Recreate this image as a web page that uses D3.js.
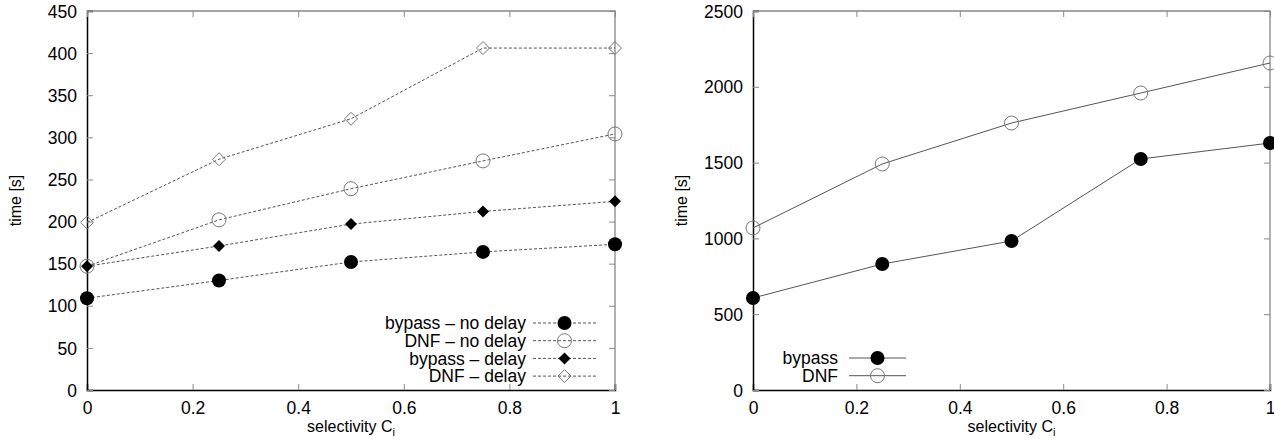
<!DOCTYPE html>
<html><head><meta charset="utf-8">
<script src="https://cdn.jsdelivr.net/npm/d3@7"></script>
<style>body{margin:0;background:#fff;} svg{display:block;font-family:"Liberation Sans",Arial,sans-serif;}</style>
</head><body>
<svg id="c" width="1274" height="439"></svg>
<script>
const xs = [0, 0.25, 0.5, 0.75, 1];
const xTicks = [0, 0.2, 0.4, 0.6, 0.8, 1];
const leftYTicks = [0, 50, 100, 150, 200, 250, 300, 350, 400, 450];
const rightYTicks = [0, 500, 1000, 1500, 2000, 2500];
const bypassNoDelay = [109, 130, 152, 164, 173];
const dnfNoDelay = [147, 202, 239, 272, 304];
const bypassDelay = [147, 171, 197, 212, 224];
const dnfDelay = [199, 274, 322, 406, 406];
const bypassR = [607, 831, 983, 1524, 1629];
const dnfR = [1069, 1491, 1761, 1959, 2157];
const leftLabels = ["bypass \u2013 no delay", "DNF \u2013 no delay", "bypass \u2013 delay", "DNF \u2013 delay"];
const rightLabels = ["bypass", "DNF"];

const svg = d3.select("#c");
const FS = 17.5;

function marker(g, type, x, y) {
  if (type === "fc") g.append("circle").attr("cx", x).attr("cy", y).attr("r", 7).attr("fill", "#000");
  else if (type === "oc") g.append("circle").attr("cx", x).attr("cy", y).attr("r", 7).attr("fill", "none").attr("stroke", "#777").attr("stroke-width", 1);
  else if (type === "fd") g.append("path").attr("d", `M${x},${y-6}L${x+6},${y}L${x},${y+6}L${x-6},${y}Z`).attr("fill", "#000");
  else if (type === "od") g.append("path").attr("d", `M${x},${y-6.5}L${x+6.5},${y}L${x},${y+6.5}L${x-6.5},${y}Z`).attr("fill", "none").attr("stroke", "#777").attr("stroke-width", 1);
}

function panel(opts) {
  const {x0, x1, y0, y1, ymax, yticks, series, legend} = opts;
  const g = svg.append("g");
  const x = d3.scaleLinear().domain([0, 1]).range([x0, x1]);
  const y = d3.scaleLinear().domain([0, ymax]).range([y1, y0]);
  g.append("path").attr("d", `M${x0},${y0}H${x1}V${y1}`).attr("fill", "none").attr("stroke", "#888").attr("stroke-width", 1.3);
  const tl = 6;
  const bAx = g.append("g").attr("transform", `translate(0,${y1})`).call(d3.axisBottom(x).tickValues(xTicks).tickSize(-tl).tickPadding(12).tickFormat(d3.format("")));
  const lAx = g.append("g").attr("transform", `translate(${x0},0)`).call(d3.axisLeft(y).tickValues(yticks).tickSize(-tl).tickPadding(10).tickFormat(d3.format("")));
  const tAx = g.append("g").attr("transform", `translate(0,${y0})`).call(d3.axisTop(x).tickValues(xTicks).tickSize(-tl).tickFormat(""));
  const rAx = g.append("g").attr("transform", `translate(${x1},0)`).call(d3.axisRight(y).tickValues(yticks).tickSize(-tl).tickFormat(""));
  [bAx, lAx, tAx, rAx].forEach(a => {
    a.selectAll(".tick line").attr("stroke", "#888");
    a.selectAll("text").attr("font-size", FS).attr("fill", "#000").attr("font-family", "Liberation Sans, Arial, sans-serif");
    a.attr("font-size", FS);
  });
  bAx.select(".domain").attr("stroke", "#000").attr("stroke-width", 1.5);
  lAx.select(".domain").attr("stroke", "#000").attr("stroke-width", 1.5);
  tAx.select(".domain").remove();
  rAx.select(".domain").remove();
  lAx.selectAll(".tick text").attr("dy", "0.35em");
  g.append("text").attr("transform", `translate(${x0 - 66},${(y0 + y1) / 2}) rotate(-90)`).attr("text-anchor", "middle").attr("font-size", 16).text("time [s]");
  const xl = g.append("text").attr("x", (x0 + x1) / 2).attr("y", y1 + 42).attr("text-anchor", "middle").attr("font-size", 16);
  xl.append("tspan").text("selectivity C");
  xl.append("tspan").attr("font-size", 11).attr("dy", 4).text("i");
  const line = d3.line().x((d, i) => x(xs[i])).y(d => y(d));
  series.forEach(s => {
    g.append("path").datum(s.values).attr("d", line).attr("fill", "none").attr("stroke", s.stroke).attr("stroke-width", 1).attr("stroke-dasharray", s.dash);
    s.values.forEach((v, i) => marker(g, s.type, x(xs[i]), y(v)));
  });
  series.forEach((s, i) => {
    const ly = legend.y + i * legend.dy;
    g.append("text").attr("x", legend.tx).attr("y", ly).attr("dy", "0.35em").attr("text-anchor", "end").attr("font-size", FS).text(s.label);
    g.append("line").attr("x1", legend.l0).attr("x2", legend.l1).attr("y1", ly).attr("y2", ly).attr("stroke", s.stroke).attr("stroke-width", 1).attr("stroke-dasharray", s.dash);
    marker(g, s.type, (legend.l0 + legend.l1) / 2, ly);
  });
}

panel({
  x0: 87, x1: 615, y0: 11, y1: 390, ymax: 450, yticks: leftYTicks,
  series: [
    {values: bypassNoDelay, type: "fc", label: leftLabels[0], stroke: "#555", dash: "3,2"},
    {values: dnfNoDelay, type: "oc", label: leftLabels[1], stroke: "#555", dash: "3,2"},
    {values: bypassDelay, type: "fd", label: leftLabels[2], stroke: "#555", dash: "3,2"},
    {values: dnfDelay, type: "od", label: leftLabels[3], stroke: "#555", dash: "3,2"}
  ],
  legend: {y: 323, dy: 17.7, tx: 526, l0: 533, l1: 596}
});
panel({
  x0: 753, x1: 1270, y0: 11, y1: 390, ymax: 2500, yticks: rightYTicks,
  series: [
    {values: bypassR, type: "fc", label: rightLabels[0], stroke: "#555", dash: null},
    {values: dnfR, type: "oc", label: rightLabels[1], stroke: "#555", dash: null}
  ],
  legend: {y: 358, dy: 17.7, tx: 838, l0: 849, l1: 906}
});
</script>
</body></html>
